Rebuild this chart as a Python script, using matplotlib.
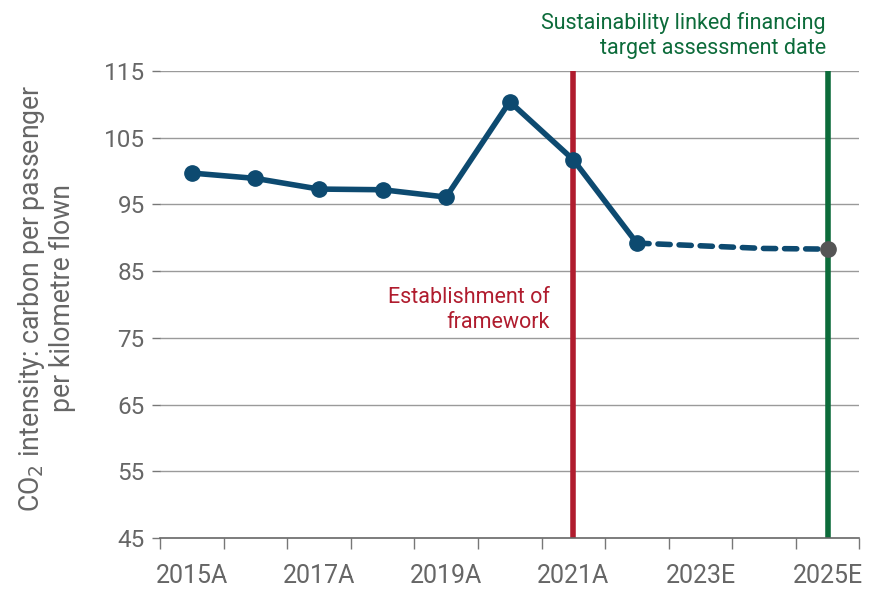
import matplotlib
matplotlib.use("Agg")
import matplotlib.pyplot as plt
from matplotlib.ticker import FixedLocator

plt.rcParams['font.family'] = ['Roboto', 'DejaVu Sans']

years = ['2015A', '2016A', '2017A', '2018A', '2019A', '2020A', '2021A', '2022A', '2023E', '2024E', '2025E']
actual_values = [99.7, 98.9, 97.3, 97.2, 96.1, 110.4, 101.7, 89.2]
forecast_values = [89.2, 88.8, 88.4, 88.3]
yticks = [45, 55, 65, 75, 85, 95, 105, 115]
framework_year = '2021A'
target_year = '2025E'

BLUE = '#0D4A70'
RED = '#B01C2E'
GREEN = '#0C6B3A'
GRAY = '#666666'

fig = plt.figure(figsize=(8.71, 5.90), dpi=100)
ax = fig.add_axes([0.1837, 0.0881, 0.8030, 0.7916])

xa = list(range(len(actual_values)))
xf = list(range(len(actual_values) - 1, len(actual_values) - 1 + len(forecast_values)))

ax.set_xlim(-0.5, len(years) - 0.5)
ax.set_ylim(45, 115)

for y in yticks[1:]:
    ax.axhline(y, color='#9a9a9a', lw=1.0, zorder=1)

fi = years.index(framework_year)
ti = years.index(target_year)
ax.plot([fi, fi], [45, 115], color=RED, lw=4, zorder=2, solid_capstyle='butt')
ax.plot([ti, ti], [45, 115], color=GREEN, lw=4, zorder=2, solid_capstyle='butt')

ax.plot(xf, forecast_values, color=BLUE, lw=4, ls=(0, (2.2, 1.6)), zorder=3, dash_capstyle='round')
ax.plot(xa, actual_values, color=BLUE, lw=4, marker='o', ms=11, zorder=4)
ax.plot([xf[-1]], [forecast_values[-1]], marker='o', ms=11, color='#555555', zorder=5, ls='none')

for s in ['top', 'right', 'left']:
    ax.spines[s].set_visible(False)
ax.spines['bottom'].set_color('#666666')
ax.spines['bottom'].set_linewidth(1.2)

ax.set_yticks(yticks)
ax.tick_params(axis='y', length=6, width=1, color='#777777', labelsize=17.5, labelcolor=GRAY, pad=5)
ax.set_xticks(list(range(0, len(years), 2)))
ax.set_xticklabels(years[::2])
ax.xaxis.set_minor_locator(FixedLocator([i - 0.5 for i in range(len(years) + 1)]))
ax.tick_params(axis='x', which='major', length=0, labelsize=18, labelcolor=GRAY, pad=19)
ax.tick_params(axis='x', which='minor', length=8, width=1, color='#777777')

ax.set_ylabel('CO$_2$ intensity: carbon per passenger\nper kilometre flown', fontsize=19.2,
              color=GRAY, linespacing=1.08)
ax.yaxis.set_label_coords(-0.12, 0.514)

ax.text(fi - 0.37, 82.6, 'Establishment of\nframework', color=RED, fontsize=15.5,
        ha='right', va='top', linespacing=1.25)
ax.text(ti - 0.03, 123.9, 'Sustainability linked financing\ntarget assessment date', color=GREEN,
        fontsize=15.5, ha='right', va='top', linespacing=1.3, clip_on=False)

fig.savefig('out.png', dpi=100)
